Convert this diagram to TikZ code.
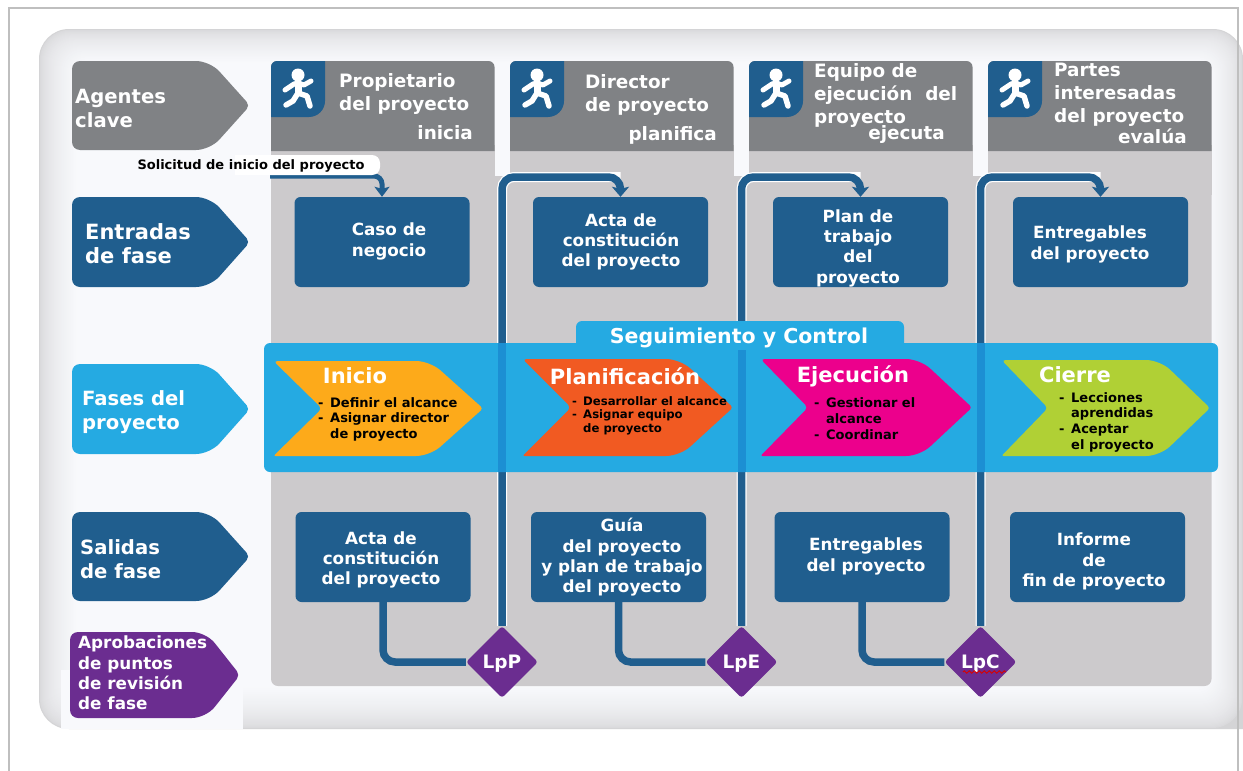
\documentclass[tikz,border=0pt]{standalone}
\usepackage{fontspec}
\setmainfont{DejaVu Sans}
\usetikzlibrary{arrows.meta,shapes.geometric,decorations.pathmorphing}
\definecolor{pblue}{HTML}{205E8E}
\definecolor{pgrey}{HTML}{808285}
\definecolor{pbody}{HTML}{CCCACC}
\definecolor{psky}{HTML}{25AAE2}
\definecolor{pstrip}{HTML}{1C8FD3}
\definecolor{ppurple}{HTML}{6B2D90}
\definecolor{pinner}{HTML}{F8F9FC}
\definecolor{pouter}{HTML}{D4D4D6}
\definecolor{pframe}{HTML}{BFBFBF}
\definecolor{porange}{HTML}{FDAA1A}
\definecolor{pred}{HTML}{F15A22}
\definecolor{pmag}{HTML}{EC008C}
\definecolor{pgreen}{HTML}{B0D035}
\newcommand{\PentShape}[6]{% left top tip bottom taper colour
  \fill[#6,rounded corners=8pt] (#1,{(#2+#4)/2}) -- (#1,#2) [rounded corners=14pt] -- (#5,#2) [rounded corners=5pt] -- ({#3+2},{(#2+#4)/2}) [rounded corners=14pt] -- (#5,#4) [rounded corners=8pt] -- (#1,#4) -- cycle;}
\newcommand{\ChevShape}[7]{% left top bottom notch taper tip colour
  \fill[#7,rounded corners=2pt] ({#1-1.5},#2) [rounded corners=14pt] -- (#5,#2) [rounded corners=3pt] -- ({#6+1},{(#2+#3)/2}) [rounded corners=14pt] -- (#5,#3) [rounded corners=2pt] -- ({#1-1.5},#3) [rounded corners=4pt] -- (#4,{(#2+#3)/2}) -- cycle;}
\newcommand{\HeadShape}[1]{% left x
  \fill[pbody] (#1,145) rectangle ({#1+223.5},195);
  \fill[pgrey,rounded corners=6pt] (#1,151) [sharp corners] -- (#1,100) [rounded corners=6pt] -- (#1,61) -- ({#1+223.5},61) -- ({#1+223.5},100) [sharp corners] -- ({#1+223.5},151) -- cycle;
  \fill[pblue,rounded corners=6pt] (#1,117) [sharp corners] -- (#1,90) [rounded corners=6pt] -- (#1,61) [sharp corners] -- ({#1+54},61) [rounded corners=16pt] -- ({#1+54},117) [sharp corners] -- cycle;
  \begin{scope}[shift={(#1,0)}]
    \fill[white] (27,75) circle (6.5pt);
    \draw[white,line width=5pt,line cap=round,line join=round] (14,90) -- (23,84) -- (27,83) -- (33,85) -- (40,81);
    \draw[white,line width=7pt,line cap=round,line join=round] (27,83) -- (27,93);
    \draw[white,line width=5.5pt,line cap=round,line join=round] (27,93) -- (22,101) -- (15,105);
    \draw[white,line width=5.5pt,line cap=round,line join=round] (27,93) -- (36,96) -- (39,106);
  \end{scope}}
\newcommand{\Dsh}{\makebox[12pt][l]{-}}
\newcommand{\Nod}{\hspace*{12pt}}
\newcommand{\GateText}[1]{\raisebox{-6.5pt}[0pt][0pt]{#1}}
\tikzset{
  stagebox/.style={fill=pblue,rounded corners=6pt,minimum width=175pt,minimum height=90pt,inner sep=0pt},
  gate/.style={diamond,aspect=1,fill=ppurple,rounded corners=3pt,minimum width=72pt,minimum height=72pt,inner sep=0pt,text=white,font=\fontsize{18.5}{20}\selectfont\bfseries},
  flowhalo/.style={white,line width=10pt,rounded corners=12pt},
  flowline/.style={pblue,line width=7.5pt,rounded corners=12pt},
  flowarrow/.style={pblue,line width=7.5pt,rounded corners=12pt,-{Stealth[length=10pt,width=17pt,inset=2pt]}},
  sidetext/.style={text=white,align=left,anchor=west,inner sep=0pt,font=\fontsize{#1}{24}\selectfont\bfseries},
  headtext/.style={text=white,align=left,anchor=west,inner sep=0pt,font=\fontsize{18.4}{23}\selectfont\bfseries},
  boxtext/.style={text=white,align=center,inner sep=0pt,font=\fontsize{16.8}{20.3}\selectfont\bfseries},
  phasetitle/.style={text=white,anchor=center,inner sep=0pt,font=\fontsize{21}{24}\selectfont\bfseries},
  phaselist/.style={text=black,align=left,anchor=north west,inner sep=0pt,font=\fontsize{13}{#1}\selectfont\bfseries},
}
\begin{document}
\begin{tikzpicture}[x=1pt,y=-1pt]
\useasboundingbox (0,0) rectangle (1243,771);
\fill[white] (0,0) rectangle (1243,771);
% ---- panel with soft edge
\fill[pouter,rounded corners=30pt] (39,400) -- (39,29) -- (1243,29) [sharp corners] -- (1243,729) [rounded corners=30pt] -- (39,729) -- cycle;
\foreach \i in {1,...,40}{
  \pgfmathsetmacro{\pc}{100*sqrt(\i/40)}
  \pgfmathsetmacro{\il}{39+\i*38/40}
  \pgfmathsetmacro{\it}{29+\i*34/40}
  \pgfmathsetmacro{\ir}{1243-\i*34/40}
  \pgfmathsetmacro{\ib}{729-\i*42/40}
  \pgfmathsetmacro{\rr}{30-\i*0.4}
  \fill[pinner!\pc!pouter,rounded corners=\rr pt] (\il,\ib) rectangle (\ir,\it);
}
\fill[pinner] (61,670) rectangle (243,729);
% ---- column body
\fill[pbody,rounded corners=7pt] (271,176) rectangle (1211.5,686);
\HeadShape{271}
\HeadShape{510}
\HeadShape{749}
\HeadShape{988}
% ---- left pentagons
\PentShape{72}{61}{248}{150}{210}{pgrey}
\PentShape{72}{197}{248}{287}{210}{pblue}
\PentShape{72}{364}{248}{454}{210}{psky}
\PentShape{72}{512}{248}{601}{210}{pblue}
\PentShape{70}{632}{238}{718}{206}{ppurple}
% ---- boxes
\node[stagebox] (inCaso) at (382,242) {};
\node[stagebox] (inActa) at (620.5,242) {};
\node[stagebox] (inPlan) at (860.5,242) {};
\node[stagebox] (inEntr) at (1100.5,242) {};
\node[stagebox] (outActa) at (383,557) {};
\node[stagebox] (outGuia) at (618.5,557) {};
\node[stagebox] (outEntr) at (862,557) {};
\node[stagebox] (outInf) at (1097.5,557) {};
% ---- gates
\node[gate] (lpp) at (502,662) {\GateText{LpP}};
\node[gate] (lpe) at (741.5,662) {\GateText{LpE}};
\node[gate] (lpc) at (980.5,662) {\GateText{LpC}};
\coordinate (rowtop) at (0,177);
\coordinate (solStart) at (270,176);
% ---- connectors
\foreach \g/\b in {lpp/inActa,lpe/inPlan,lpc/inEntr}{
  \draw[flowhalo,shift={(0.5,1.5)}] (\g.north) -- (\g.north |- rowtop) -- (\b.north |- rowtop);
  \draw[flowarrow] (\g.north) -- (\g.north |- rowtop) -- (\b.north |- rowtop) -- (\b.north);
}
\draw[pblue,line width=5pt,rounded corners=8pt,-{Stealth[length=10pt,width=15pt,inset=2pt]}] (solStart) -- (inCaso.north |- solStart) -- (inCaso.north);
\foreach \b/\g in {outActa/lpp,outGuia/lpe,outEntr/lpc}{
  \draw[flowline] (\b.south) |- (\g.west);
}
\fill[white,rounded corners=8pt] (235,175) [sharp corners] -- (235,155) [rounded corners=8pt] -- (380,155) -- (380,175) [sharp corners] -- cycle;
% ---- band
\fill[psky,rounded corners=6pt] (576,350) -- (576,321) -- (904,321) -- (904,350) -- cycle;
\fill[psky,rounded corners=6pt] (264,343) rectangle (1218,472);
\fill[pstrip] (498,343) rectangle (506,472);
\fill[pstrip] (737.5,350) rectangle (745.5,472);
\fill[pstrip] (976.5,343) rectangle (984.5,472);
% ---- chevrons
\ChevShape{275}{361}{456}{322}{430}{482}{porange}
\ChevShape{524}{359}{456}{571}{680}{732}{pred}
\ChevShape{762}{359}{456}{808}{920}{971}{pmag}
\ChevShape{1003}{360}{456}{1048}{1160}{1209}{pgreen}
% ---- left labels
\node[sidetext=19.6] (tAgentes) at (75,108) {Agentes\\clave};
\node[sidetext=21] (tEntradas) at (85,243.5) {Entradas\\de fase};
\node[sidetext=19.6] (tFases) at (82,412) {Fases del\\proyecto};
\node[sidetext=19.6] (tSalidas) at (80,559) {Salidas\\de fase};
\node[text=white,align=left,anchor=west,inner sep=0pt,font=\fontsize{16.8}{20.4}\selectfont\bfseries] (tAprob) at (78,673) {Aprobaciones\\de puntos\\de revisión\\de fase};
% ---- head labels
\node[headtext] (hProp) at (339,93.5) {Propietario\\del proyecto};
\node[headtext,anchor=east] (hInicia) at (473,133) {inicia};
\node[headtext] (hDir) at (585,94.5) {Director\\de proyecto};
\node[headtext,anchor=east] (hPlan) at (717,135) {planifica};
\node[headtext] (hEq) at (814,95) {Equipo de\\ejecución\ \ del\\proyecto};
\node[headtext,anchor=east] (hEjec) at (945,134) {ejecuta};
\node[headtext] (hPart) at (1054,95) {Partes\\interesadas\\del proyecto};
\node[headtext,anchor=east] (hEval) at (1187,136) {evalúa};
% ---- box labels
\node[boxtext] (tCaso) at (389,241.5) {Caso de\\negocio};
\node[boxtext] (tActa) at (621,242) {Acta de\\constitución\\del proyecto};
\node[boxtext] (tPlan) at (858,248) {Plan de\\trabajo\\del\\proyecto};
\node[boxtext] (tEntr) at (1090,244.5) {Entregables\\del proyecto};
\node[boxtext] (tOutA) at (381,560) {Acta de\\constitución\\del proyecto};
\node[boxtext] (tOutG) at (622,557.5) {Guía\\del proyecto\\y plan de trabajo\\del proyecto};
\node[boxtext] (tOutE) at (866,556.5) {Entregables\\del proyecto};
\node[boxtext] (tOutI) at (1094,561.5) {Informe\\de\\fin de proyecto};
% ---- band labels
\node[text=white,inner sep=0pt,font=\fontsize{20.5}{24}\selectfont\bfseries] (tSeg) at (739,338) {Seguimiento y Control};
\node[phasetitle] (tIni) at (355,376) {Inicio};
\node[phasetitle] (tPla) at (625,376) {Planificación};
\node[phasetitle] (tEje) at (853,376) {Ejecución};
\node[phasetitle] (tCie) at (1075,375) {Cierre};
\node[phaselist=15.5] (lIni) at (318,397) {\Dsh Definir el alcance\\\Dsh Asignar director\\\Nod de proyecto};
\node[text=black,align=left,anchor=north west,inner sep=0pt,font=\fontsize{11.7}{13.6}\selectfont\bfseries] (lPla) at (572,396) {\makebox[11pt][l]{-}Desarrollar el alcance\\\makebox[11pt][l]{-}Asignar equipo\\\hspace*{11pt}de proyecto};
\node[phaselist=16] (lEje) at (814,397.5) {\Dsh Gestionar el\\\Nod alcance\\\Dsh Coordinar};
\node[phaselist=15.7] (lCie) at (1059,392) {\Dsh Lecciones\\\Nod aprendidas\\\Dsh Aceptar\\\Nod el proyecto};
% ---- request label
\node[text=black,inner sep=0pt,font=\fontsize{13}{15}\selectfont\bfseries] (tSol) at (251,166) {Solicitud de inicio del proyecto};
% ---- spell mark under LpC
\coordinate (wavA) at (963,672);
\coordinate (wavB) at (1006,672);
\draw[red!85!black,line width=.9pt,decorate,decoration={zigzag,segment length=5pt,amplitude=1.3pt}] (wavA) -- (wavB);
% ---- frame
\coordinate (frA) at (9,771);
\coordinate (frB) at (9,8);
\coordinate (frC) at (1238,8);
\coordinate (frD) at (1238,771);
\draw[pframe,line width=2pt] (frA) -- (frB) -- (frC) -- (frD);
\end{tikzpicture}
\end{document}
